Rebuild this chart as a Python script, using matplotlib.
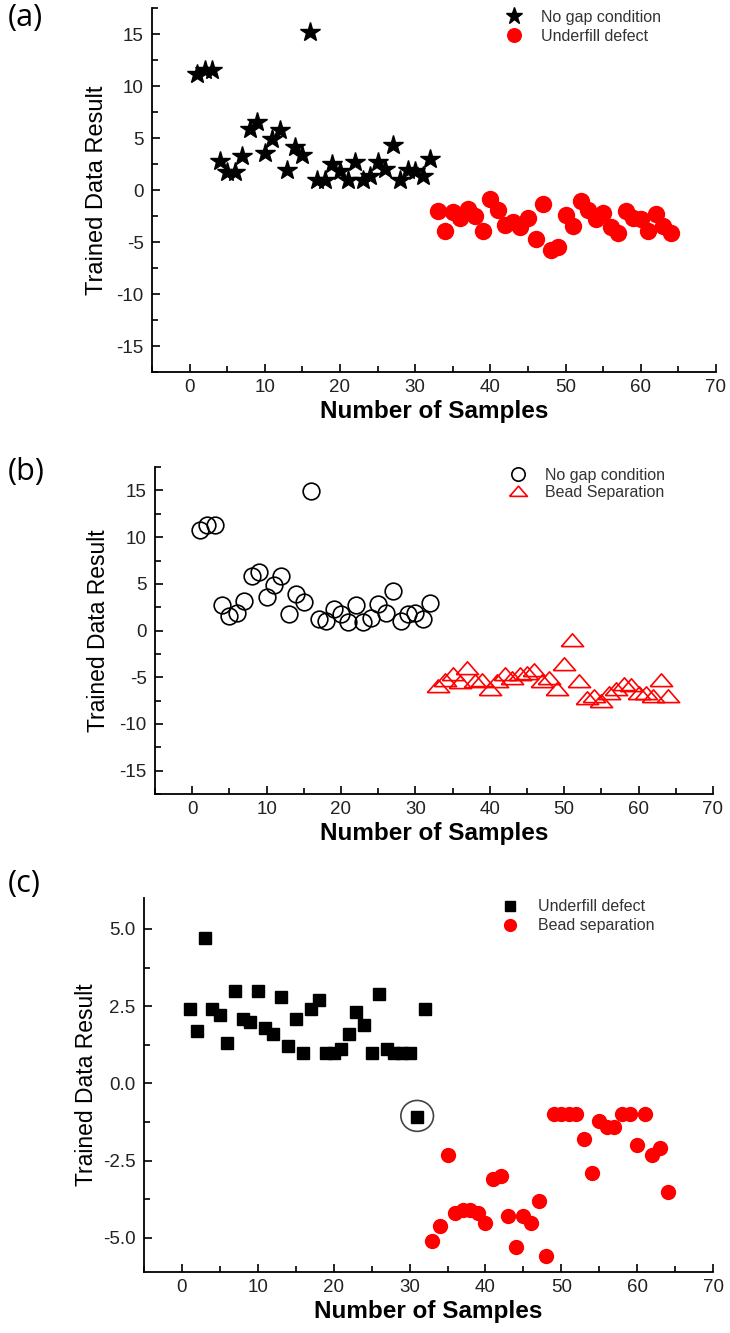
import numpy as np
import matplotlib.pyplot as plt
from matplotlib.ticker import MultipleLocator
from matplotlib.patches import Ellipse

plt.rcParams['font.family'] = ['Liberation Sans', 'DejaVu Sans']
plt.rcParams['axes.unicode_minus'] = False     # plain "-" like the original

#---------------data-------------------------------------------

samples_1 = np.arange(1, 33)      # sample no. 1..32
samples_2 = np.arange(33, 65)     # sample no. 33..64

# (a)
nogap_a = [11.2, 11.5, 11.5, 2.8, 1.7, 1.7, 3.3, 5.9, 6.5, 3.6, 4.9, 5.8,
           1.9, 4.1, 3.4, 15.2, 1.0, 1.0, 2.5, 1.8, 1.0, 2.7, 1.0, 1.3,
           2.7, 2.0, 4.3, 1.0, 1.9, 1.8, 1.3, 3.0]
underfill_a = [-2.0, -3.9, -2.1, -2.7, -1.8, -2.5, -3.9, -0.9, -1.9, -3.4, -3.1, -3.6,
               -2.7, -4.7, -1.3, -5.8, -5.5, -2.4, -3.5, -1.1, -1.9, -2.8, -2.2, -3.6,
               -4.1, -2.0, -2.7, -2.8, -3.9, -2.3, -3.5, -4.1]

# (b)
nogap_b = [10.8, 11.3, 11.3, 2.7, 1.6, 1.9, 3.2, 5.8, 6.3, 3.6, 4.9, 5.8,
           1.8, 3.9, 3.1, 14.9, 1.2, 1.0, 2.3, 1.8, 0.9, 2.7, 0.9, 1.3,
           2.8, 1.9, 4.2, 1.0, 1.8, 1.9, 1.2, 3.0]
bead_b = [-5.9, -5.25, -4.6, -5.5, -4.0, -5.4, -5.25, -6.3, -5.4, -4.7, -5.1, -4.7,
          -4.5, -4.2, -5.4, -5.1, -6.25, -3.6, -1.0, -5.4, -7.2, -7.0, -7.5, -6.7,
          -6.3, -5.7, -5.8, -6.7, -6.7, -7.0, -5.3, -7.0]

# (c)
underfill_c = [2.4, 1.7, 4.7, 2.4, 2.2, 1.3, 3.0, 2.1, 2.0, 3.0, 1.8, 1.6,
               2.8, 1.2, 2.1, 1.0, 2.4, 2.7, 1.0, 1.0, 1.1, 1.6, 2.3, 1.9,
               1.0, 2.9, 1.1, 1.0, 1.0, 1.0, -1.1, 2.4]
bead_c = [-5.1, -4.6, -2.3, -4.2, -4.1, -4.1, -4.2, -4.5, -3.1, -3.0, -4.3, -5.3,
          -4.3, -4.5, -3.8, -5.6, -1.0, -1.0, -1.0, -1.0, -1.8, -2.9, -1.2, -1.4,
          -1.4, -1.0, -1.0, -2.0, -1.0, -2.3, -2.1, -3.5]

outlier_idx = 30      # circled point in (c)

xlabel = 'Number of Samples'
ylabel = 'Trained Data Result'

# flat triangle like the Origin one
flat_tri = [(-1, -0.55), (1, -0.55), (0, 0.6), (-1, -0.55)]

#---------------helper------------------

def style_axes(ax, ymajor, yminor, ylab_size, ylabpad):
    for s in ['top', 'right']:
        ax.spines[s].set_visible(False)
    for s in ['left', 'bottom']:
        ax.spines[s].set_linewidth(1.3)
    ax.set_xlim(-5, 70)
    ax.xaxis.set_major_locator(MultipleLocator(10))
    ax.xaxis.set_minor_locator(MultipleLocator(5))
    ax.yaxis.set_major_locator(MultipleLocator(ymajor))
    ax.yaxis.set_minor_locator(MultipleLocator(yminor))
    ax.tick_params(which='both', direction='in', width=1.2, labelsize=13.5,
                   labelcolor='#222222')
    ax.tick_params(which='major', length=6)
    ax.tick_params(which='minor', length=4)
    ax.tick_params(axis='y', pad=6)
    ax.tick_params(axis='x', pad=5)
    ax.set_xlabel(xlabel, fontsize=17.5, fontweight='bold', labelpad=3)
    ax.set_ylabel(ylabel, fontsize=ylab_size, labelpad=ylabpad)


fig = plt.figure(figsize=(7.3, 13.33), dpi=100)

#---------------(a)------------------
ax1 = fig.add_axes([0.2082, 0.7209, 0.7726, 0.2731])
ax1.plot(samples_1, nogap_a, ls='none', marker='*', ms=15, color='black',
         label='No gap condition')
ax1.plot(samples_2, underfill_a, ls='none', marker='o', ms=11.5, color='red',
         label='Underfill defect')
ax1.set_ylim(-17.5, 17.5)
style_axes(ax1, 5, 2.5, 17, 6)
ax1.set_yticks([-15, -10, -5, 0, 5, 10, 15])
ax1.legend(loc='upper left', bbox_to_anchor=(0.624, 0.995), frameon=False,
           fontsize=11.5, borderpad=0, borderaxespad=0, handlelength=1.2,
           handletextpad=1.1, labelspacing=0.25, labelcolor='#333333',
           markerscale=0.85)

#---------------(b)------------------
ax2 = fig.add_axes([0.2123, 0.4043, 0.7644, 0.2453])
ax2.plot(samples_1, nogap_b, ls='none', marker='o', ms=12, mfc='none',
         mec='black', mew=1.2, label='No gap condition')
ax2.plot(samples_2, bead_b, ls='none', marker=flat_tri, ms=16, mfc='none',
         mec='red', mew=1.2, label='Bead Separation')
ax2.set_ylim(-17.5, 17.5)
style_axes(ax2, 5, 2.5, 16.5, 7)
ax2.set_yticks([-15, -10, -5, 0, 5, 10, 15])
ax2.legend(loc='upper left', bbox_to_anchor=(0.633, 0.997), frameon=False,
           fontsize=11.5, borderpad=0, borderaxespad=0, handlelength=1.2,
           handletextpad=1.1, labelspacing=0.1, labelcolor='#333333',
           markerscale=0.8)

#---------------(c)------------------
ax3 = fig.add_axes([0.1973, 0.0458, 0.7795, 0.2805])
ax3.plot(samples_1, underfill_c, ls='none', marker='s', ms=8.5, color='black',
         label='Underfill defect')
ax3.plot(samples_2, bead_c, ls='none', marker='o', ms=10, color='red',
         label='Bead separation')
ax3.set_ylim(-6.1, 6.0)
style_axes(ax3, 2.5, 1.25, 16.5, 4)
ax3.set_yticks([-5, -2.5, 0, 2.5, 5])
ax3.yaxis.set_major_formatter(plt.FormatStrFormatter('%.1f'))
ax3.add_patch(Ellipse((samples_1[outlier_idx], underfill_c[outlier_idx] + 0.05),
                      4.3, 1.0, fill=False, ec='#444444', lw=1.2))
ax3.legend(loc='upper left', bbox_to_anchor=(0.627, 0.997), frameon=False,
           fontsize=11.5, borderpad=0, borderaxespad=0, handlelength=1.2,
           handletextpad=1.1, labelspacing=0.25, labelcolor='#333333',
           markerscale=0.85)

#---------------panel letters------------------
for lab, ypos in [('(a)', 0.998), ('(b)', 0.657), ('(c)', 0.348)]:
    fig.text(0.01, ypos, lab, fontsize=22, family=['Open Sans', 'DejaVu Sans'],
             va='top', ha='left')

fig.savefig('out.png', dpi=100)
